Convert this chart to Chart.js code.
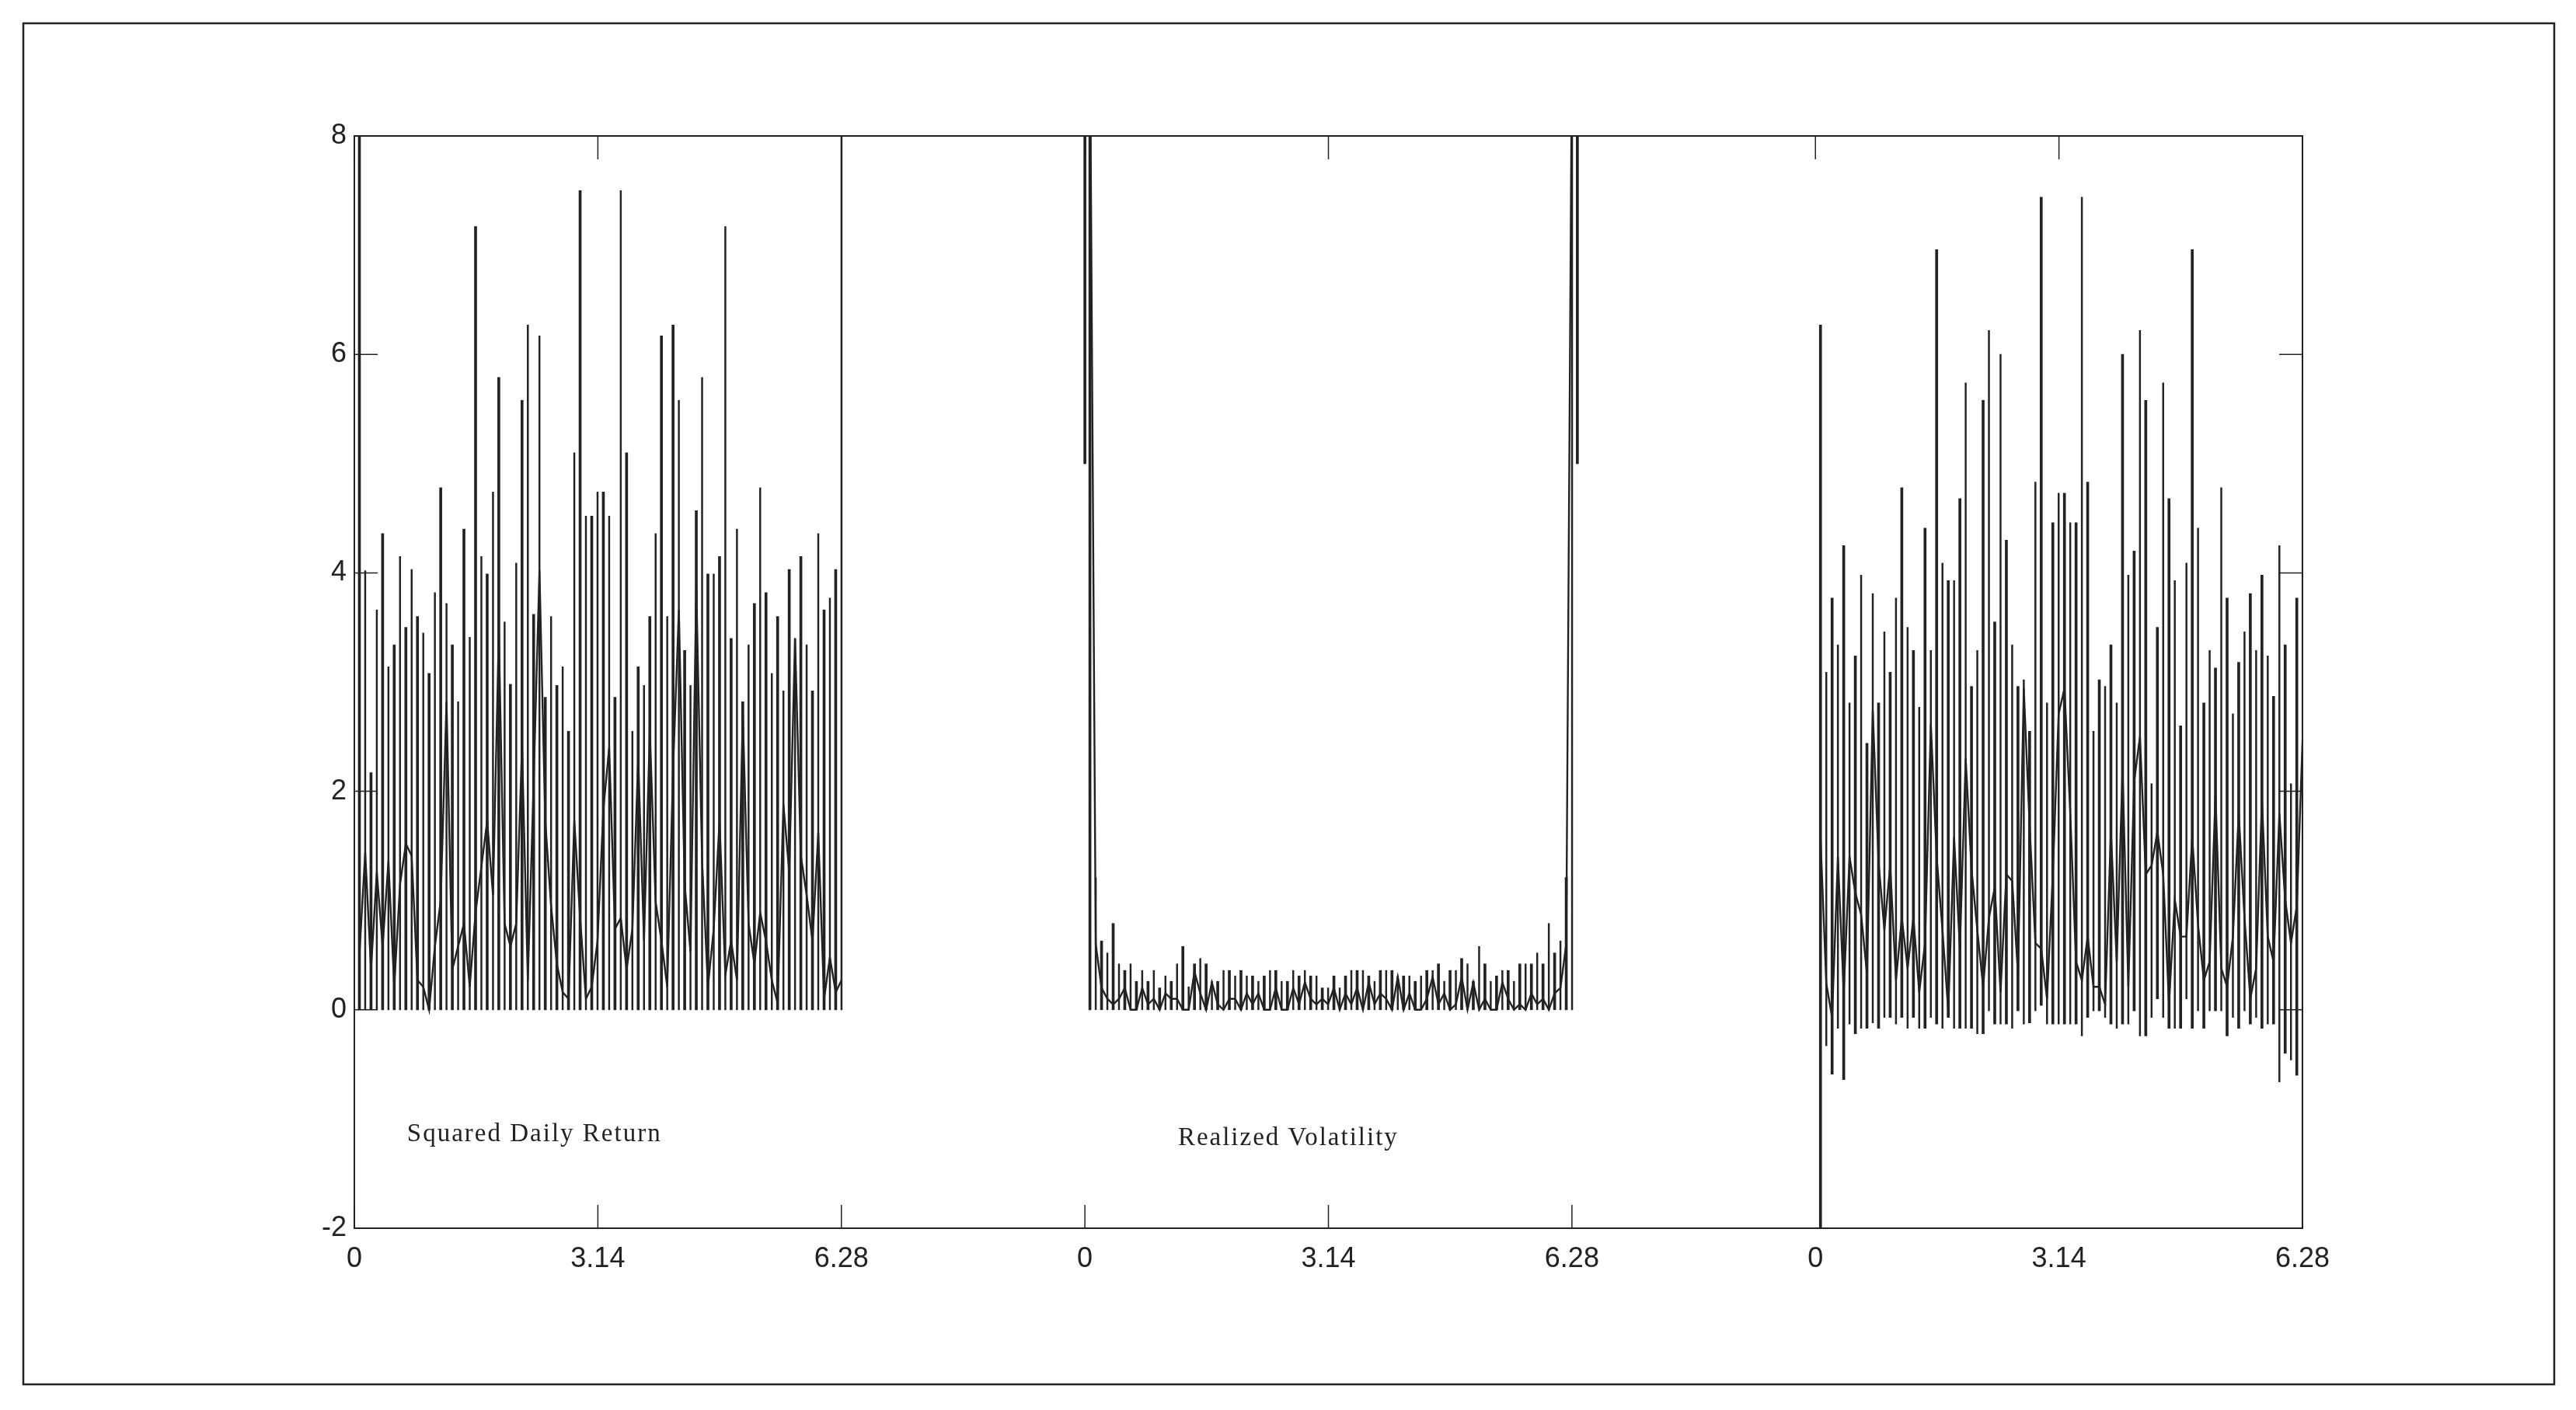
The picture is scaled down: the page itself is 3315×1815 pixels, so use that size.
<!DOCTYPE html>
<html>
<head>
<meta charset="utf-8">
<script src="https://cdn.jsdelivr.net/npm/chart.js@4.4.0/dist/chart.umd.min.js"></script>
<style>
  html, body { margin: 0; padding: 0; background: #fff; }
  canvas { display: block; }
</style>
</head>
<body>
<canvas id="chart" width="3315" height="1815"></canvas>
<script>
// three spectra side by side, each over 0..2pi, separated by a gap of pi
const panelOffsets = [0, 9.42, 18.84];
const xTickValues = [0, 3.14, 6.28, 9.42, 12.56, 15.7, 18.84, 21.98, 25.12];
const xTickLabels = ["0", "3.14", "6.28", "0", "3.14", "6.28", "0", "3.14", "6.28"];
const yTickValues = [-2, 0, 2, 4, 6, 8];
const yTickLabels = ["-2", "0", "2", "4", "6", "8"];

// fourier frequency grid: first point and spacing (84 points per panel)
const freqStart = 0.065;
const freqStep = 0.0749;

// panel 1: squared daily return
const sqReturnPeak = [
  12, 4.02, 2.17, 3.66, 4.36, 3.14, 3.34, 4.15, 3.5, 4.03,
  3.6, 3.45, 3.08, 3.82, 4.78, 3.72, 3.34, 2.82, 4.4, 3.41,
  7.17, 4.15, 3.99, 4.74, 5.79, 3.55, 2.98, 4.09, 5.58, 6.27,
  3.62, 6.17, 2.86, 3.6, 2.97, 3.14, 2.55, 5.1, 7.5, 4.52,
  4.52, 4.74, 4.74, 4.52, 2.86, 7.5, 5.1, 2.55, 3.14, 2.97,
  3.6, 4.36, 6.17, 3.6, 6.27, 5.58, 3.29, 2.97, 4.57, 5.79,
  3.99, 3.99, 4.15, 7.17, 3.4, 4.4, 2.82, 3.34, 3.72, 4.78,
  3.82, 3.08, 3.6, 2.92, 4.03, 3.4, 4.15, 3.34, 2.92, 4.36,
  3.66, 3.77, 4.03, 12
];
const sqReturnLow = [
  0.5, 1.44, 0.37, 1.26, 0.58, 1.36, 0.21, 1.15, 1.52, 1.41,
  0.27, 0.21, 0.0, 0.58, 1.0, 2.82, 0.37, 0.58, 0.79, 0.21,
  0.89, 1.31, 1.73, 1.05, 3.45, 0.79, 0.58, 0.79, 2.41, 0.27,
  2.09, 4.02, 1.73, 0.95, 0.42, 0.16, 0.1, 1.73, 0.84, 0.1,
  0.21, 0.63, 1.83, 2.4, 0.74, 0.84, 0.37, 0.74, 2.3, 0.63,
  2.56, 0.99, 0.63, 0.21, 2.2, 3.66, 1.15, 0.53, 3.87, 1.36,
  0.21, 0.74, 1.73, 0.32, 0.63, 0.27, 2.72, 0.79, 0.42, 0.89,
  0.63, 0.27, 0.06, 1.88, 1.26, 3.4, 1.41, 1.05, 0.63, 1.62,
  0.1, 0.48, 0.16, 0.27
];

// panel 2: realized volatility
const rvPeak = [
  12, 1.21, 0.63, 0.52, 0.79, 0.42, 0.36, 0.42, 0.26, 0.36,
  0.26, 0.36, 0.2, 0.31, 0.26, 0.42, 0.58, 0.21, 0.42, 0.47,
  0.42, 0.26, 0.26, 0.36, 0.36, 0.31, 0.36, 0.31, 0.31, 0.26,
  0.31, 0.36, 0.36, 0.26, 0.26, 0.36, 0.31, 0.36, 0.31, 0.31,
  0.2, 0.2, 0.31, 0.2, 0.31, 0.36, 0.36, 0.36, 0.31, 0.26,
  0.36, 0.36, 0.36, 0.31, 0.31, 0.31, 0.26, 0.31, 0.36, 0.36,
  0.42, 0.26, 0.36, 0.36, 0.47, 0.42, 0.26, 0.58, 0.42, 0.26,
  0.31, 0.36, 0.36, 0.26, 0.42, 0.42, 0.42, 0.52, 0.42, 0.79,
  0.52, 0.63, 1.21, 12
];
const rvLow = [
  9, 0.6, 0.2, 0.1, 0.05, 0.1, 0.2, 0.0, 0.0, 0.2,
  0.05, 0.1, 0.0, 0.15, 0.1, 0.1, 0.0, 0.0, 0.35, 0.15,
  0.0, 0.25, 0.05, 0.0, 0.1, 0.1, 0.0, 0.15, 0.05, 0.15,
  0.0, 0.0, 0.2, 0.0, 0.0, 0.2, 0.05, 0.25, 0.1, 0.05,
  0.1, 0.05, 0.2, 0.0, 0.15, 0.05, 0.2, 0.0, 0.25, 0.05,
  0.15, 0.1, 0.0, 0.3, 0.0, 0.15, 0.0, 0.0, 0.1, 0.3,
  0.05, 0.15, 0.0, 0.05, 0.3, 0.0, 0.25, 0.0, 0.1, 0.0,
  0.0, 0.25, 0.1, 0.0, 0.05, 0.0, 0.15, 0.05, 0.1, 0.0,
  0.15, 0.2, 0.6, 9
];
// the two short segments at the edges of panel 2
const rvEdgeX = [0, 6.35];
const rvEdgeFrom = [5.0, 5.0];
const rvEdgeTo = [12, 12];

// panel 3
const thirdPeak = [
  6.27, 3.09, 3.77, 3.34, 4.25, 2.81, 3.24, 3.98, 2.44, 3.81,
  2.81, 3.46, 3.09, 3.77, 4.78, 3.5, 3.29, 2.77, 4.41, 3.29,
  6.96, 4.09, 3.93, 3.93, 4.68, 5.74, 2.96, 3.29, 5.58, 6.22,
  3.55, 6.0, 4.3, 3.34, 2.96, 3.02, 2.55, 4.83, 7.44, 2.81,
  4.46, 4.73, 4.73, 4.46, 4.46, 7.44, 4.83, 2.55, 3.02, 2.96,
  3.34, 2.81, 6.0, 3.98, 4.2, 6.22, 5.58, 2.07, 3.5, 5.74,
  4.68, 3.93, 2.6, 4.09, 6.96, 4.41, 2.81, 3.29, 3.13, 4.78,
  3.77, 2.71, 3.18, 3.46, 3.81, 3.29, 3.98, 3.24, 2.87, 4.25,
  3.34, 2.07, 3.77, 5.69
];
const thirdBase = [
  -2.5, -0.33, -0.59, -0.17, -0.64, -0.13, -0.22, -0.17, -0.17, -0.12,
  -0.17, -0.07, -0.07, -0.13, -0.07, -0.17, -0.07, -0.17, -0.17, -0.07,
  -0.13, -0.17, -0.07, -0.17, -0.17, -0.17, -0.17, -0.22, -0.22, -0.01,
  -0.13, -0.13, -0.13, -0.17, -0.01, -0.13, -0.12, -0.01, 0.04, -0.13,
  -0.13, -0.13, -0.13, -0.13, -0.13, -0.24, -0.07, -0.01, -0.01, -0.07,
  -0.13, -0.17, -0.13, -0.13, -0.01, -0.24, -0.24, -0.07, 0.1, -0.07,
  -0.17, -0.17, -0.17, 0.1, -0.17, -0.01, -0.17, -0.01, -0.01, -0.01,
  -0.24, -0.07, -0.17, -0.01, -0.13, -0.07, -0.17, -0.13, -0.13, -0.66,
  -0.4, -0.46, -0.6, -2.5
];
const thirdLow = [
  1.58, 0.24, -0.07, 1.4, 0.16, 1.4, 1.07, 0.87, 0.33, 2.74,
  1.35, 0.73, 1.32, 0.27, 0.84, 0.38, 0.84, 0.16, 0.61, 2.62,
  1.4, 0.73, -0.01, 1.58, 0.56, 2.3, 1.29, 0.73, 0.21, 0.84,
  1.12, 0.16, 1.24, 1.18, 0.33, 2.94, 1.69, 0.61, 0.56, 0.1,
  1.24, 2.71, 2.94, 1.8, 0.44, 0.27, 0.67, 0.21, 0.21, 0.05,
  1.63, 0.44, 2.2, 0.21, 2.09, 2.5, 1.24, 1.32, 1.63, 1.24,
  0.05, 1.01, 0.67, 0.67, 1.58, 0.78, 0.27, 0.44, 1.97, 0.38,
  0.21, 0.67, 1.8, 0.84, 0.1, 0.38, 1.92, 0.67, 0.44, 1.8,
  1.01, 0.61, 0.95, 2.48
];

const noteLabels = [
  { text: "Squared Daily Return", x: 0.68, y: -1.14 },
  { text: "Realized Volatility", x: 10.62, y: -1.18 }
];

const INK = '#222222';
const TICK_LEN = 30;
const tickFont = { family: "'Liberation Sans', Arial, sans-serif", size: 36 };

const panels = [
  { peak: sqReturnPeak, base: sqReturnPeak.map(() => 0), low: sqReturnLow },
  { peak: rvPeak, base: rvPeak.map(() => 0), low: rvLow },
  { peak: thirdPeak, base: thirdBase, low: thirdLow }
];

const freq = (k) => freqStart + k * freqStep;

// stems: split by parity so thick and thin lines alternate like the original
const thickStems = [], thinStems = [];
panels.forEach((p, i) => {
  p.peak.forEach((v, k) => {
    const pt = { x: panelOffsets[i] + freq(k), y: [p.base[k], v] };
    (k % 2 === 0 ? thickStems : thinStems).push(pt);
  });
});
rvEdgeX.forEach((v, i) => thickStems.push({ x: panelOffsets[1] + v, y: [rvEdgeFrom[i], rvEdgeTo[i]] }));

const lineSets = panels.map((p, i) => ({
  type: 'line',
  data: p.low.map((v, k) => ({ x: panelOffsets[i] + freq(k), y: v })),
  borderColor: INK,
  borderWidth: 2.4,
  pointRadius: 0,
  tension: 0,
  clip: 0
}));

const frameAndTicks = {
  id: 'frameAndTicks',
  beforeDraw(chart) {
    const ctx = chart.ctx;
    ctx.save();
    ctx.fillStyle = '#fff';
    ctx.fillRect(0, 0, chart.width, chart.height);
    ctx.strokeStyle = INK;
    ctx.lineWidth = 2.5;
    ctx.strokeRect(30, 30, 3257, 1752);
    ctx.restore();
  },
  afterDatasetsDraw(chart) {
    const { ctx, chartArea: a, scales: { x, y } } = chart;
    ctx.save();
    ctx.strokeStyle = INK;
    ctx.lineWidth = 2;
    ctx.strokeRect(a.left, a.top, a.right - a.left, a.bottom - a.top);
    ctx.lineWidth = 1.5;
    ctx.beginPath();
    yTickValues.forEach((v) => {
      const py = y.getPixelForValue(v);
      ctx.moveTo(a.left, py); ctx.lineTo(a.left + TICK_LEN, py);
      ctx.moveTo(a.right, py); ctx.lineTo(a.right - TICK_LEN, py);
    });
    xTickValues.forEach((v, i) => {
      const px = x.getPixelForValue(v);
      ctx.moveTo(px, a.top); ctx.lineTo(px, a.top + TICK_LEN);
      if (i < 6) { ctx.moveTo(px, a.bottom); ctx.lineTo(px, a.bottom - TICK_LEN); }
    });
    ctx.stroke();

    ctx.fillStyle = INK;
    ctx.font = "33px 'Liberation Serif', 'Times New Roman', serif";
    ctx.letterSpacing = '2px';
    ctx.textBaseline = 'middle';
    ctx.textAlign = 'left';
    noteLabels.forEach((n) => ctx.fillText(n.text, x.getPixelForValue(n.x), y.getPixelForValue(n.y)));
    ctx.restore();
  }
};

new Chart(document.getElementById('chart'), {
  type: 'bar',
  data: {
    datasets: [
      { data: thickStems, backgroundColor: INK, barThickness: 3, grouped: false, clip: 0 },
      { data: thinStems, backgroundColor: INK, barThickness: 1.8, grouped: false, clip: 0 },
      ...lineSets
    ]
  },
  options: {
    responsive: false,
    animation: false,
    devicePixelRatio: 1,
    layout: { padding: { left: 396, right: 352, top: 175, bottom: 164 } },
    plugins: { legend: { display: false }, tooltip: { enabled: false } },
    scales: {
      x: {
        type: 'linear',
        min: 0,
        max: 25.12,
        offset: false,
        grid: { display: false, drawTicks: false, offset: false },
        border: { display: false },
        afterBuildTicks: (s) => { s.ticks = xTickValues.map((v) => ({ value: v })); },
        afterFit: (s) => { s.height = 70; },
        ticks: {
          autoSkip: false,
          maxRotation: 0,
          padding: 18,
          color: INK,
          font: tickFont,
          callback: (v, i) => xTickLabels[i]
        }
      },
      y: {
        type: 'linear',
        min: -2,
        max: 8,
        grid: { display: false, drawTicks: false },
        border: { display: false },
        afterBuildTicks: (s) => { s.ticks = yTickValues.map((v) => ({ value: v })); },
        afterFit: (s) => { s.width = 60; },
        ticks: {
          padding: 10,
          color: INK,
          font: tickFont,
          callback: (v, i) => yTickLabels[i]
        }
      }
    }
  },
  plugins: [frameAndTicks]
});
</script>
</body>
</html>
